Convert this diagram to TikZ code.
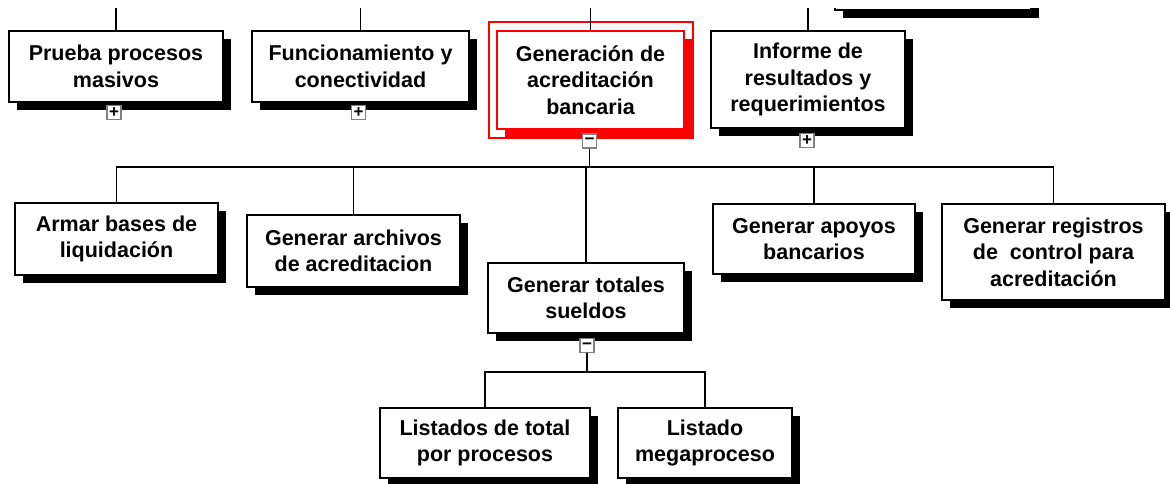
\documentclass[tikz,border=0pt]{standalone}
\usepackage{fontspec}
\setmainfont{Liberation Sans}
\usetikzlibrary{shadows}

\begin{document}
\begin{tikzpicture}[x=1pt,y=-1pt,line width=1.3pt,
	                    font=\fontsize{21.5}{26.5}\selectfont\bfseries]
	  	\tikzstyle{caja}=[rectangle, draw, fill=white, line width=1.6pt, align=center, inner sep=0pt]
	  	\tikzstyle{sombra}=[drop shadow={shadow xshift=8pt, shadow yshift=-8pt, opacity=1, fill=black}]
	  	\tikzstyle{sombra roja}=[drop shadow={shadow xshift=8pt, shadow yshift=-8pt, opacity=1, fill=red}]
	  	\tikzstyle{boton}=[rectangle, draw=black!50, fill=white, line width=1.2pt, minimum size=14pt,
	  	                   inner sep=0pt, font=\fontsize{17}{17}\selectfont\bfseries]

		  \useasboundingbox (0,0) rectangle (1170,484);
		  \clip (0,0) rectangle (1170,484);

		  % primer nivel
		  \begin{scope}
		    \clip (0,9) rectangle (1170,484);
		    \node[caja, sombra, minimum width=196pt, minimum height=60pt] (oculto) at (933,-20) {};
		  \end{scope}
		  \node[caja, sombra, minimum width=214pt, minimum height=71pt] (prueba)  at (116,66.5)  {Prueba procesos\\masivos};
		  \node[caja, sombra, minimum width=217pt, minimum height=71pt] (funcion) at (360.5,66.5) {Funcionamiento y\\conectividad};
		  \node[caja, sombra roja, draw=red, line width=2pt, minimum width=187pt, minimum height=98pt]
		                                                                  (gener)   at (590.5,80)  {Generación de\\acreditación\\bancaria};
		  \node[caja, sombra, minimum width=194pt, minimum height=97pt] (informe) at (808,79.5)  {Informe de\\resultados y\\requerimientos};
		  \draw[red, line width=1.2pt] ([shift={(-7,-8)}]gener.north west) rectangle ([shift={(8,8)}]gener.south east);

		  % segundo nivel
		  \node[caja, sombra, minimum width=203pt, minimum height=72pt] (armar)     at (116.5,239) {Armar bases de\\liquidación};
		  \node[caja, sombra, minimum width=213pt, minimum height=72pt] (archivos)  at (353.5,251) {Generar archivos\\de acreditacion};
		  \node[caja, sombra, minimum width=196pt, minimum height=70pt] (totales)   at (586,298)   {Generar totales\\sueldos};
		  \node[caja, sombra, minimum width=202pt, minimum height=70pt] (apoyos)    at (814,239)   {Generar apoyos\\bancarios};
		  \node[caja, sombra, minimum width=223pt, minimum height=96pt] (registros) at (1053.5,252) {Generar registros\\de\ \ control para\\acreditación};

		  % tercer nivel
		  \node[caja, sombra, minimum width=210pt, minimum height=70pt] (listados) at (485,443) {Listados de total\\por procesos};
		  \node[caja, sombra, minimum width=174pt, minimum height=70pt] (mega)     at (705,443) {Listado\\megaproceso};

		  % botones
		  \node[boton] (pmas)   at ([shift={(-2,10)}]prueba.south)  {+};
		  \node[boton] (fmas)   at ([shift={(-2,10)}]funcion.south) {+};
		  \node[boton] (gmenos) at ([shift={(-1,11)}]gener.south)   {\char"2212};
		  \node[boton] (imas)   at ([shift={(-1,12)}]informe.south) {+};
		  \node[boton] (tmenos) at ([shift={(1,12)}]totales.south)  {\char"2212};

		  % conectores
		  \coordinate (arriba) at (0,8);
		  \coordinate (barra1) at (0,167);
		  \coordinate (barra2) at (0,372);
		  \foreach \n in {prueba,funcion,gener,informe}
		    \draw (\n.north) -- (\n.north |- arriba);
		  \draw (gmenos.south) -- (gmenos.south |- barra1);
		  \draw (armar.north) -- (armar.north |- barra1) -- (registros.north |- barra1) -- (registros.north);
		  \foreach \n in {archivos,totales,apoyos}
		    \draw (\n.north) -- (\n.north |- barra1);
		  \draw (tmenos.south) -- (tmenos.south |- barra2);
		  \draw (listados.north) -- (listados.north |- barra2) -- (mega.north |- barra2) -- (mega.north);
		\end{tikzpicture}
\end{document}
